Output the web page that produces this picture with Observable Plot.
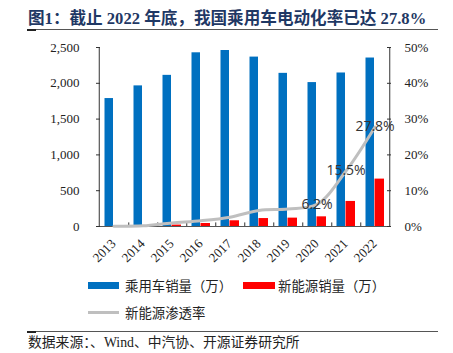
<!DOCTYPE html>
<html>
<head>
<meta charset="utf-8">
<script src="https://cdn.jsdelivr.net/npm/d3@7"></script>
<script src="https://cdn.jsdelivr.net/npm/@observablehq/plot@0.6"></script>
<style>
  html, body { margin: 0; padding: 0; background: #fff; }
  #wrap { position: relative; width: 453px; height: 353px; overflow: hidden; }
  #wrap svg { position: absolute; left: 0; top: 0; overflow: visible; }
  .abs { position: absolute; white-space: nowrap; }
  #title { left: 28px; top: 9px; font-family: "Liberation Serif", "Noto Sans CJK SC", serif; font-weight: bold; font-size: 16.6px; color: #1F3864; line-height: 20px; }
  .rule { position: absolute; left: 27px; width: 411px; height: 0; border-top: 1px solid #555; }
  .rule::before { content: ""; position: absolute; left: 0; top: -1.5px; width: 9px; height: 2px; background: #222; }
  .leg { font-family: "Noto Sans CJK SC", sans-serif; font-size: 13.4px; color: #222; line-height: 16px; }
  .sw { position: absolute; }
  #src { left: 28px; top: 334px; font-family: "Liberation Serif", "Noto Sans CJK SC", serif; font-size: 13.8px; color: #222; line-height: 18px; }
</style>
</head>
<body>
<div id="wrap">
  <div id="title" class="abs">图1：截止 2022 年底，我国乘用车电动化率已达 27.8%</div>
  <div class="rule" style="top:29px"></div>
  <div id="chart"></div>
  <div class="sw" style="left:88px;top:282px;width:31px;height:7px;background:#0070C0"></div>
  <div class="abs leg" style="left:125px;top:277px">乘用车销量（万）</div>
  <div class="sw" style="left:243px;top:282px;width:32px;height:7px;background:#FF0000"></div>
  <div class="abs leg" style="left:278px;top:277px">新能源销量（万）</div>
  <div class="sw" style="left:88px;top:311px;width:31px;height:3px;background:#BFBFBF"></div>
  <div class="abs leg" style="left:125px;top:304px">新能源渗透率</div>
  <div class="rule" style="top:331px"></div>
  <div id="src" class="abs">数据来源：、Wind、中汽协、开源证券研究所</div>
</div>
<script>
const years = ["2013","2014","2015","2016","2017","2018","2019","2020","2021","2022"];
const passengerSales = [1787, 1964, 2111, 2426, 2458, 2366, 2139, 2010, 2144, 2353];
const nevSales = [0, 0, 20, 42, 80, 111, 117, 135, 350, 662];
const nevShare = [0.1, 0.2, 1.0, 1.6, 2.6, 4.5, 4.9, 6.2, 15.5, 27.8];
const shareLabels = ["", "", "", "", "", "", "", "6.2%", "15.5%", "27.8%"];
const leftTicks = [0, 500, 1000, 1500, 2000, 2500];
const rightTickLabels = ["0%", "10%", "20%", "30%", "40%", "50%"];

const SCALE = 2500 / 50; // percent -> left-axis units
const data = years.map((y, i) => ({
  year: y, pv: passengerSales[i], nev: nevSales[i],
  share: nevShare[i] * SCALE, label: shareLabels[i]
}));
const rightTicks = rightTickLabels.map((t, i) => ({v: leftTicks[i], t}));
const half = 29.5 / 2;
const axisColor = "#333";

const chart = Plot.plot({
  width: 453,
  height: 353,
  marginTop: 47,
  marginBottom: 127,
  marginLeft: 96,
  marginRight: 62,
  style: {background: "transparent", overflow: "visible"},
  x: {type: "band", domain: years, padding: 0, axis: null},
  y: {domain: [0, 2500], axis: null},
  marks: [
    Plot.barY(data, {x: "year", y: "pv", fill: "#0070C0", insetLeft: 5.5, insetRight: 15}),
    Plot.barY(data.filter(d => d.nev > 0), {x: "year", y: "nev", fill: "#FF0000", insetLeft: 14.5, insetRight: 5}),
    // axes lines
    Plot.ruleY([0], {stroke: "#555", strokeWidth: 1.2}),
    Plot.ruleX(["2013"], {x: d => d, y1: 0, y2: 2500, dx: -half, stroke: axisColor}),
    Plot.ruleX(["2022"], {x: d => d, y1: 0, y2: 2500, dx: half, stroke: axisColor}),
    // inward ticks
    Plot.tickY(leftTicks, {y: d => d, insetRight: 291, stroke: axisColor}),
    Plot.tickY(leftTicks, {y: d => d, insetLeft: 291, stroke: axisColor}),
    Plot.ruleX(years.slice(0, -1), {x: d => d, y1: 0, y2: 50, dx: half, stroke: axisColor}),
    // tick labels
    Plot.text(leftTicks, {y: d => d, frameAnchor: "left", dx: -17, textAnchor: "end", text: d => d3.format(",")(d),
      fontFamily: "Liberation Serif", fontSize: 13, fill: "#222"}),
    Plot.text(rightTicks, {y: "v", frameAnchor: "right", dx: 13, textAnchor: "start", text: "t",
      fontFamily: "Liberation Serif", fontSize: 13, fill: "#222"}),
    Plot.text(years, {x: d => d, y: () => 0, text: d => d, rotate: -45, textAnchor: "end", lineAnchor: "bottom",
      dx: 2.5, dy: 18, fontFamily: "Liberation Serif", fontSize: 13, fill: "#222"}),
    // penetration line
    Plot.line(data, {x: "year", y: "share", stroke: "#BFBFBF", strokeWidth: 3, curve: "catmull-rom"}),
    Plot.text(data.filter(d => d.label), {x: "year", y: "share", text: "label",
      fontFamily: "Open Sans", fontSize: 14, fill: "#333"})
  ]
});
document.getElementById("chart").appendChild(chart);
</script>
</body>
</html>
